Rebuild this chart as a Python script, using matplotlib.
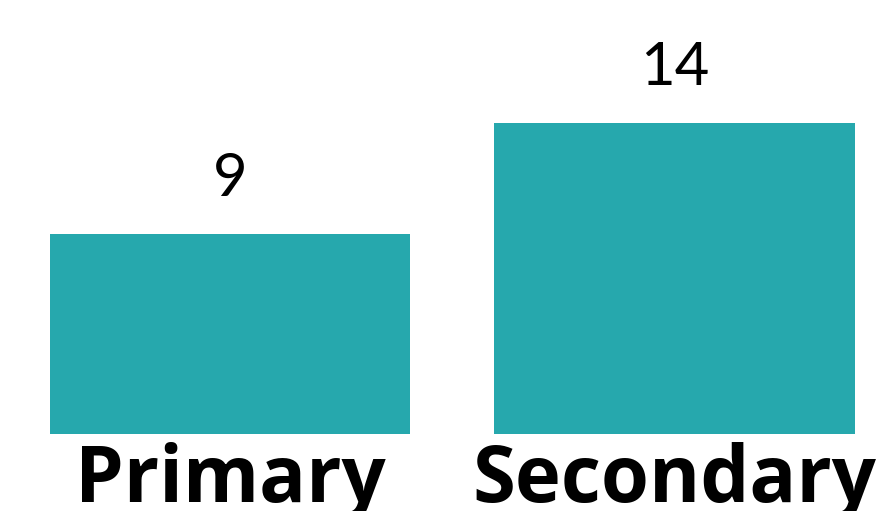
import matplotlib
matplotlib.use("Agg")
import matplotlib.pyplot as plt

categories = ["Primary", "Secondary"]
values = [9, 14]

bar_color = "#26a8ad"

fig = plt.figure(figsize=(8.79, 5.11), dpi=100)
ax = fig.add_axes([0, 0, 1, 1])

x = list(range(len(categories)))
bars = ax.bar(x, values, width=0.81, color=bar_color)

# axes span the whole figure, limits chosen to place the bars
ax.set_xlim(-0.5174, 1.460)
ax.set_ylim(-3.47, 19.55)
ax.axis("off")

for b, v in zip(bars, values):
    ax.annotate(str(v), (b.get_x() + b.get_width() / 2, v),
                xytext=(0, 20), textcoords="offset points",
                ha="center", va="bottom", fontsize=43,
                family="Lato", color="black")

for xi, cat in zip(x, categories):
    ax.annotate(cat, (xi, 0), xytext=(0, -6), textcoords="offset points",
                ha="center", va="top", fontsize=56, fontweight="bold",
                family="Open Sans", color="black")

fig.savefig("out.png", dpi=100)
